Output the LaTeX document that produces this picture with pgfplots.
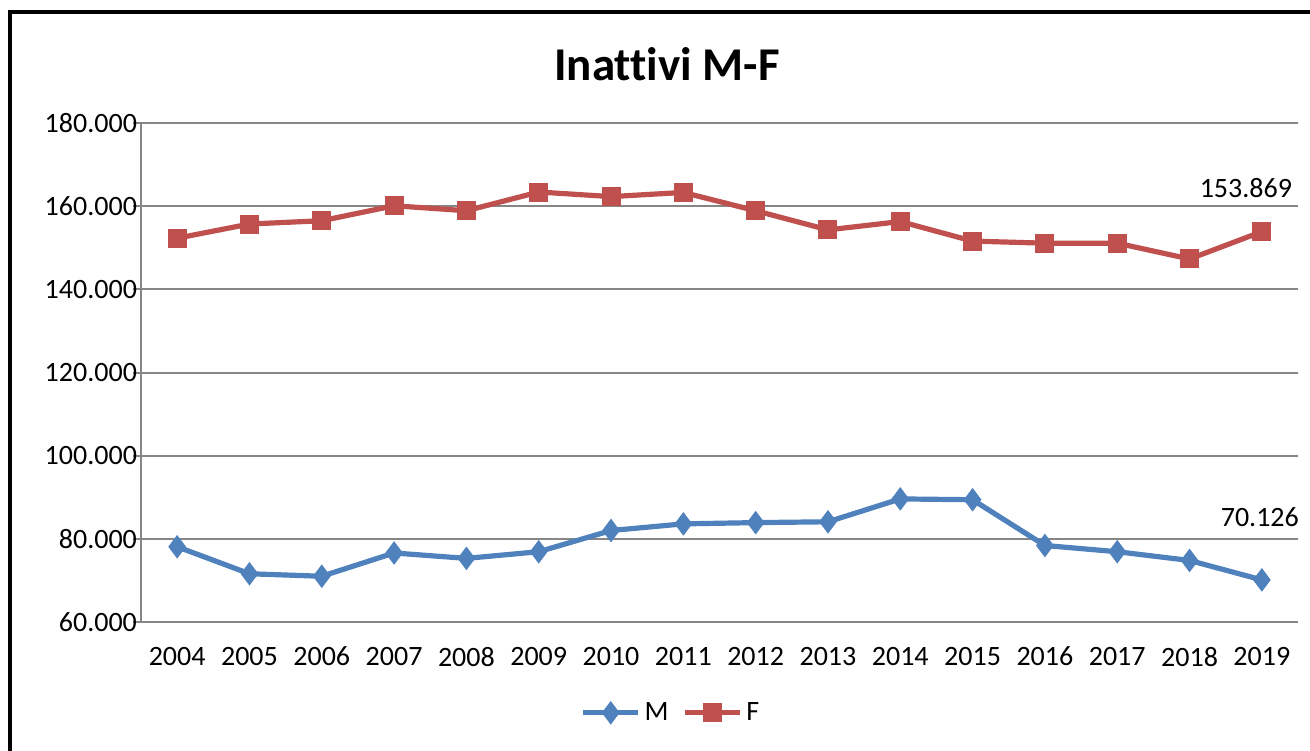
\documentclass[border=0pt]{standalone}
\usepackage{fontspec}
\setmainfont{Carlito}[Ligatures={NoCommon}]
\usepackage{pgfplots}
\pgfplotsset{compat=1.18}
\definecolor{mblue}{HTML}{4F81BD}
\definecolor{fred}{HTML}{C0504D}
\definecolor{gridgray}{HTML}{868686}

\begin{document}
\begin{tikzpicture}
% page = 1310 x 750 px at 0.5pt per px
\useasboundingbox (0,0) rectangle (655pt,375pt);
\draw[line width=2.2pt] (5pt,369pt) rectangle (700pt,-30pt);
\node[font=\fontsize{23.5}{28}\selectfont\bfseries] at (333.5pt,343pt) {Inattivi M-F};
\begin{axis}[
at={(70.5pt,64pt)}, anchor=south west,
width=578.5pt, height=249.5pt, scale only axis,
xmin=-0.5, xmax=15.5, ymin=60, ymax=180,
axis lines*=left,
axis line style={gridgray, line width=1pt},
xtick={0,...,15},
xticklabels={2004,2005,2006,2007,2008,2009,2010,2011,2012,2013,2014,2015,2016,2017,2018,2019},
minor xtick={-0.5,0.5,...,15.5},
ytick={60,80,...,180},
yticklabels={60.000,80.000,100.000,120.000,140.000,160.000,180.000},
ymajorgrids,
grid style={gridgray, line width=1pt},
tick align=outside,
x tick style={draw=none},
minor x tick style={gridgray, line width=1pt},
minor tick length=4pt,
y tick style={gridgray, line width=1pt},
major tick length=4pt,
tick label style={font=\fontsize{14}{16}\selectfont},
xticklabel style={yshift=-5pt},
yticklabel style={xshift=5.5pt},
legend style={at={(0.459,-0.182)}, anchor=center, draw=none,
  font=\fontsize{14}{16}\selectfont, legend columns=2,
  /tikz/every even column/.append style={column sep=5pt}},
legend image code/.code={\draw[mark repeat=2, mark phase=2] plot coordinates {(0cm,0cm)(0.48cm,0cm)(0.96cm,0cm)};},
]
\addplot[mblue, line width=2.6pt, mark=diamond*, mark size=5.5pt, mark options={solid, line width=0.5pt}] coordinates {
(0,78.1) (1,71.6) (2,71.0) (3,76.6) (4,75.3) (5,76.9) (6,82.0) (7,83.6)
(8,83.9) (9,84.1) (10,89.6) (11,89.4) (12,78.4) (13,76.9) (14,74.8) (15,70.126)};
\addlegendentry{M}
\addplot[fred, line width=2.6pt, mark=square*, mark size=4.5pt, mark options={solid, line width=0.5pt}] coordinates {
(0,152.3) (1,155.7) (2,156.5) (3,160.1) (4,158.9) (5,163.4) (6,162.3) (7,163.3)
(8,158.9) (9,154.3) (10,156.3) (11,151.6) (12,151.1) (13,151.1) (14,147.3) (15,153.869)};
\addlegendentry{F}
\node[font=\fontsize{14}{16}\selectfont, xshift=-8pt, yshift=22pt] at (axis cs:15,153.869) {153.869};
\node[font=\fontsize{14}{16}\selectfont, xshift=-1pt, yshift=31.5pt] at (axis cs:15,70.126) {70.126};
\end{axis}
\end{tikzpicture}
\end{document}
